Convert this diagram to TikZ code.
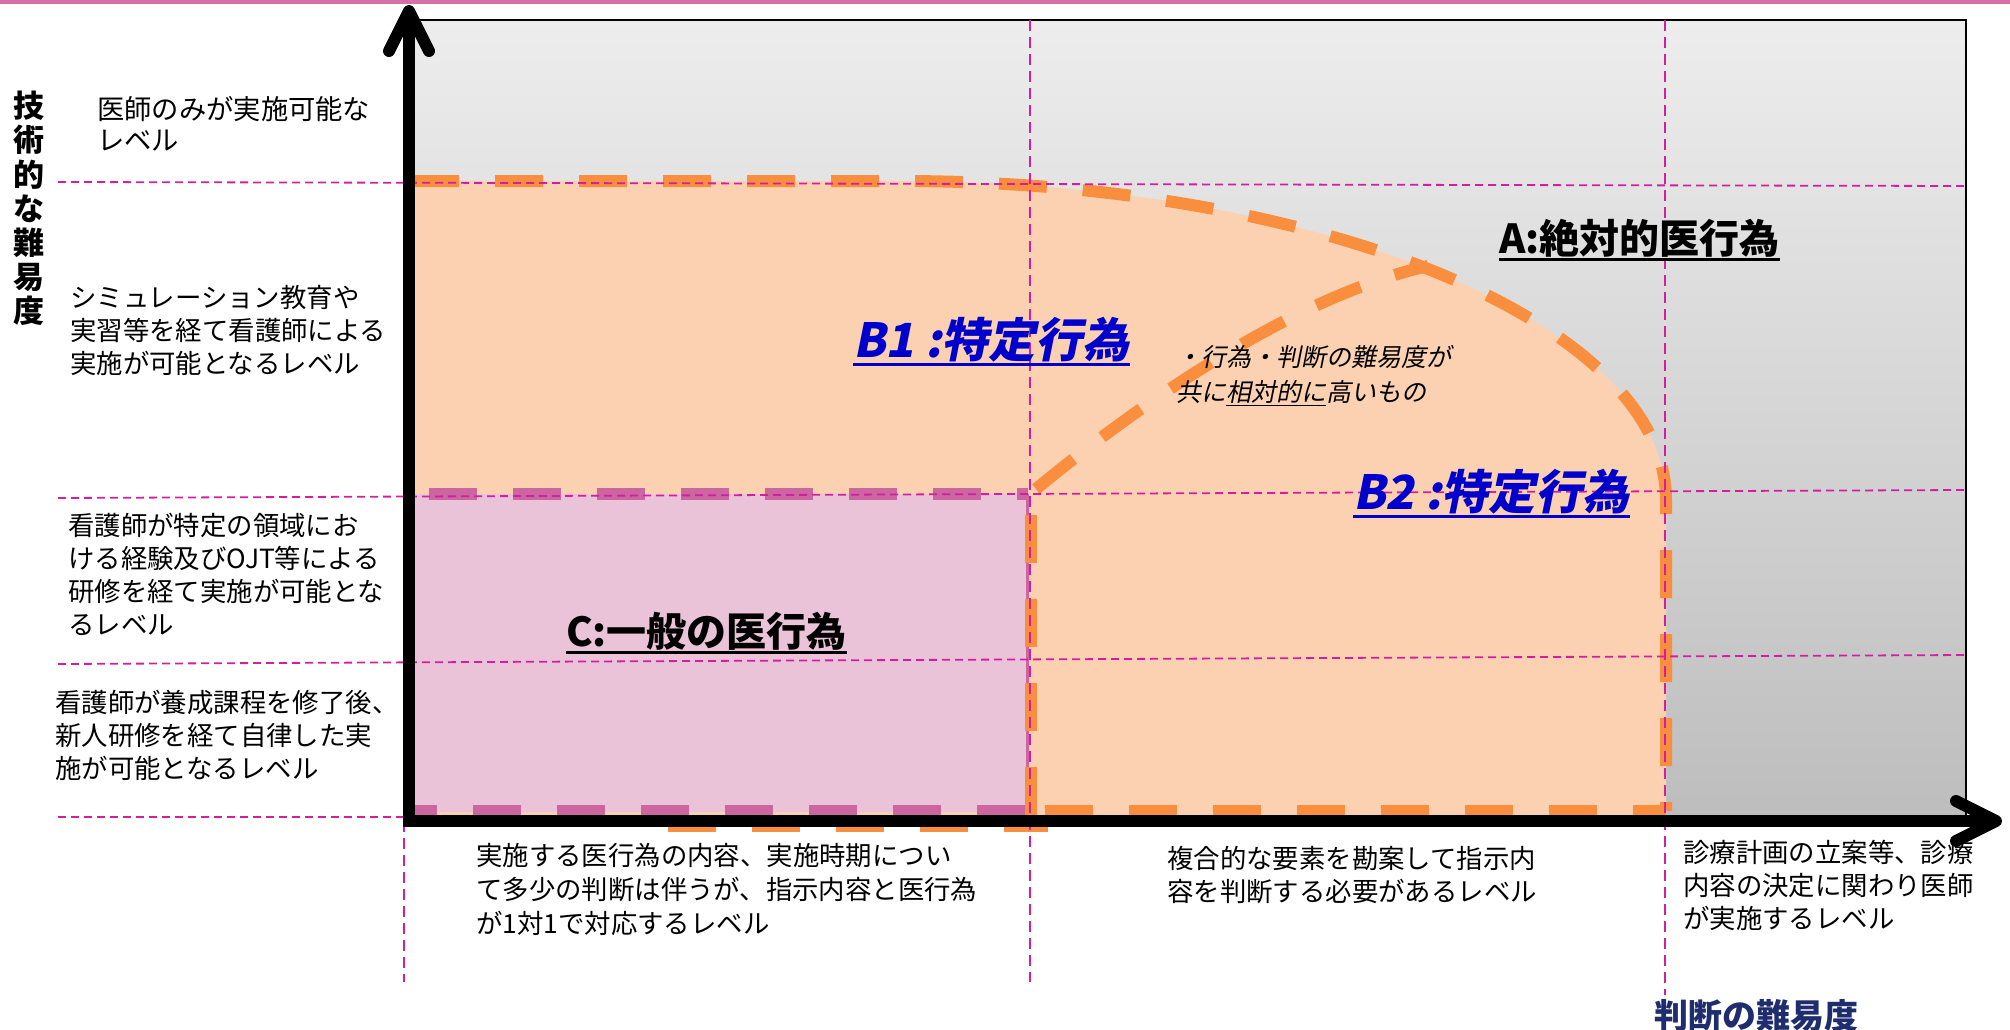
\documentclass[tikz,border=0pt]{standalone}
\usepackage{fontspec}
\setmainfont{Noto Sans CJK JP}
\newfontfamily\jpsl{Noto Sans CJK JP}[FakeSlant=0.2]
\usetikzlibrary{calc}
\definecolor{pinktop}{RGB}{214,112,168}
\definecolor{guide}{RGB}{210,30,160}
\definecolor{grayT}{RGB}{237,237,237}
\definecolor{grayB}{RGB}{189,189,189}
\definecolor{orfill}{RGB}{252,209,177}
\definecolor{orline}{RGB}{248,142,62}
\definecolor{cfill}{RGB}{235,195,217}
\definecolor{cline}{RGB}{204,102,160}
\definecolor{bblue}{RGB}{0,0,204}
\definecolor{navy}{RGB}{31,45,110}
\tikzset{
  guideh/.style={guide, line width=1.8pt, dash pattern=on 8pt off 5pt},
  guidev/.style={guide, line width=1.8pt, dash pattern=on 11pt off 6pt},
  orangedash/.style={orline, line width=12pt, dash pattern=on 48pt off 36pt},
  cdash/.style={cline, line width=12pt, dash pattern=on 48pt off 36pt},
  axisline/.style={black, line width=12pt},
  chevron/.style={black, line width=12pt, line cap=round, line join=round},
  lbl/.style={font=\fontsize{26.4}{33}\selectfont, align=left, inner sep=0pt, anchor=north west},
  region/.style={inner sep=0pt, anchor=west},
  bluelabel/.style={region, font=\jpsl\bfseries\fontsize{47}{52}\selectfont, text=bblue},
}
\begin{document}
\begin{tikzpicture}[x=1pt,y=-1pt]
\useasboundingbox (0,0) rectangle (2010,1030);
% top pink rule
\draw[pinktop, line width=4pt] (0,2) -- (2010,2);
% gray background
\shade[top color=grayT, bottom color=grayB] (409,20) rectangle (1966,821);
\draw[line width=2pt] (409,20) -- (1966,20) -- (1966,821);
% orange region (B1 + B2)
\fill[orfill] (403,181) -- (900,181) .. controls (1323,181) and (1666,324) .. (1666,500) -- (1666,821) -- (403,821) -- cycle;
% C region
\fill[cfill] (409,494) rectangle (1028,812);
\draw[cdash] (429,494) -- (1028,494);
\draw[cdash, dash phase=20pt] (409,811) -- (1028,811);
\draw[cline, line width=3pt] (1027,494) -- (1027,811);
% orange dashed outlines
\draw[orangedash] (411,181) -- (900,181) .. controls (1323,181) and (1666,324) .. (1666,500) -- (1666,811);
\draw[orangedash] (1045,811) -- (1666,811);
\draw[orangedash] (1031,815) -- (1031,492);
\draw[orangedash] (1036,489) .. controls (1150,395) and (1300,295) .. (1428,266);
\draw[orline, line width=8pt, dash pattern=on 48pt off 36pt] (668,828) -- (1048,828);
% guide lines
\draw[guideh] (58,182) -- (1966,186);
\draw[guideh] (58,498) -- (1966,490);
\draw[guideh] (58,664) -- (1966,655);
\draw[guideh] (58,817) -- (409,817);
\draw[guidev] (404,821) -- (404,982);
\draw[guidev] (1030,20) -- (1030,982);
\draw[guidev] (1665,20) -- (1665,995);
% axes
\coordinate (O) at (409,821);
\coordinate (ytip) at (409,11);
\coordinate (xtip) at (1996,821);
\draw[axisline] (ytip) -- (O) -- (xtip);
\draw[chevron] ($(ytip)+(-20,40)$) -- (ytip) -- ($(ytip)+(20,40)$);
\draw[chevron] ($(xtip)+(-40,-20)$) -- (xtip) -- ($(xtip)+(-40,20)$);
% axis titles
\node[font=\bfseries\fontsize{31}{34.2}\selectfont, align=center, inner sep=0pt, anchor=north] (ytitle) at (29,91) {技\\術\\的\\な\\難\\易\\度};
\node[font=\bfseries\fontsize{34}{40}\selectfont, text=navy, inner sep=0pt, anchor=north west] (xtitle) at (1654,999) {判断の難易度};
% left level labels
\node[lbl, font=\fontsize{27.3}{31}\selectfont] (l1) at (97,96) {医師のみが実施可能な\\レベル};
\node[lbl] (l2) at (70,285) {シミュレーション教育や\\実習等を経て看護師による\\実施が可能となるレベル};
\node[lbl] (l3) at (68,513) {看護師が特定の領域にお\\ける経験及びOJT等による\\研修を経て実施が可能とな\\るレベル};
\node[lbl] (l4) at (55,690) {看護師が養成課程を修了後、\\新人研修を経て自律した実\\施が可能となるレベル};
% bottom labels
\node[lbl, font=\fontsize{26.4}{34}\selectfont] (b1) at (476,843) {実施する医行為の内容、実施時期につい\\て多少の判断は伴うが、指示内容と医行為\\が1対1で対応するレベル};
\node[lbl] (b2) at (1167,846) {複合的な要素を勘案して指示内\\容を判断する必要があるレベル};
\node[lbl] (b3) at (1683,840) {診療計画の立案等、診療\\内容の決定に関わり医師\\が実施するレベル};
% region labels
\node[region, font=\bfseries\fontsize{40}{44}\selectfont] (ra) at (1499,238) {A:絶対的医行為};
\draw[line width=3pt] ([yshift=-2pt]ra.south west) -- ([yshift=-2pt]ra.south east);
\node[bluelabel] (rb1) at (853,340) {B1 :特定行為};
\draw[bblue, line width=3pt] ([yshift=-2pt]rb1.south west) -- ([yshift=-2pt]rb1.south east);
\node[bluelabel] (rb2) at (1353,492) {B2 :特定行為};
\draw[bblue, line width=3pt] ([yshift=-2pt]rb2.south west) -- ([yshift=-2pt]rb2.south east);
\node[lbl, font=\jpsl\fontsize{25}{35}\selectfont] (note) at (1176,345) {・行為・判断の難易度が\\共に\underline{相対的に}高いもの};
\node[region, font=\bfseries\fontsize{40}{44}\selectfont] (rc) at (566,631) {C:一般の医行為};
\draw[line width=3pt] ([yshift=-2pt]rc.south west) -- ([yshift=-2pt]rc.south east);
\end{tikzpicture}
\end{document}
